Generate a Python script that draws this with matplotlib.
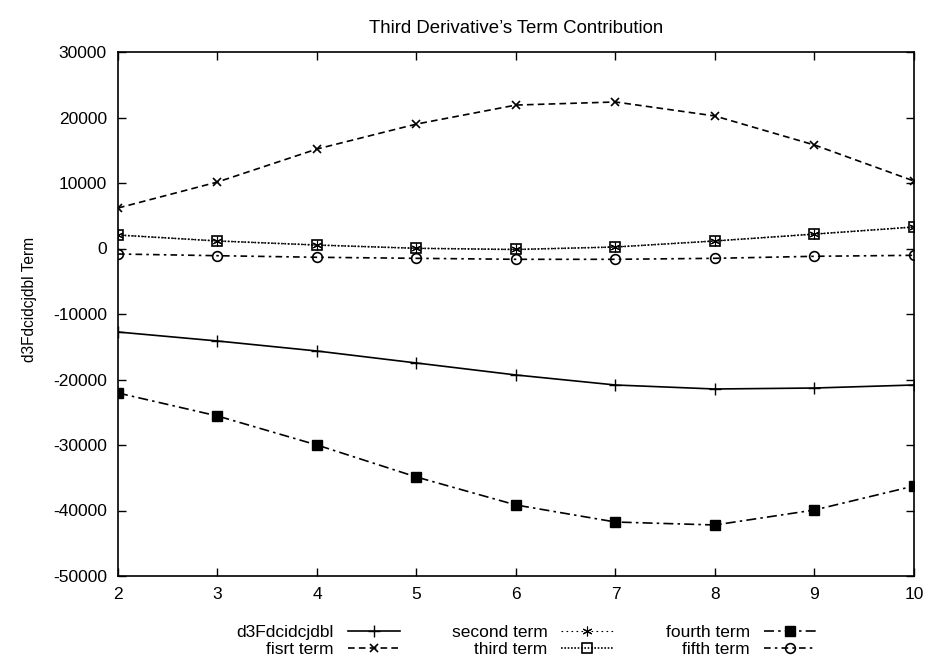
import matplotlib
matplotlib.use("Agg")
import matplotlib.pyplot as plt

plt.rcParams['font.family'] = ['Liberation Sans', 'DejaVu Sans']
plt.rcParams['axes.unicode_minus'] = False

x = [2, 3, 4, 5, 6, 7, 8, 9, 10]
d3F = [-12750, -14120, -15650, -17480, -19310, -20840, -21450, -21300, -20840]
first_term = [6180, 10150, 15190, 19000, 21900, 22370, 20230, 15800, 10300]
second_term = [2060, 1150, 530, 30, -150, 230, 1150, 2200, 3280]
third_term = [2060, 1150, 530, 30, -150, 230, 1150, 2200, 3280]
fourth_term = [-22060, -25570, -30000, -34890, -39160, -41760, -42210, -39920, -36260]
fifth_term = [-840, -1100, -1340, -1500, -1650, -1650, -1500, -1190, -1040]

labels = ["d3Fdcidcjdbl", "fisrt term", "second term", "third term", "fourth term", "fifth term"]

fig = plt.figure(figsize=(9.28, 6.58), dpi=100)
ax = fig.add_axes([118/928, 1-576/658, (914-118)/928, (576-52)/658])

lw = 1.2
ax.plot(x, d3F, color='black', lw=lw, ls='-', marker='+', ms=8, mew=1.0, label=labels[0])
ax.plot(x, first_term, color='black', lw=lw, ls=(0, (4, 2.5)), marker='x', ms=6, mew=1.2, label=labels[1])
ax.plot(x, second_term, color='black', lw=0.8, ls=(0, (1.5, 3)), marker=(6, 2, 0), ms=7, mew=0.8, label=labels[2])
ax.plot(x, third_term, color='black', lw=lw, ls=(0, (1, 1)), marker='s', ms=7, mfc='none', mew=1.2, label=labels[3])
ax.plot(x, fourth_term, color='black', lw=lw, ls=(0, (6, 2.5, 1.5, 2.5)), marker='s', ms=7, mfc='black', label=labels[4])
ax.plot(x, fifth_term, color='black', lw=lw, ls=(0, (4, 2.5, 1.5, 2.5)), marker='o', ms=7, mfc='none', mew=1.2, label=labels[5])

ax.set_xlim(2, 10)
ax.set_ylim(-50000, 30000)
ax.set_xticks(x)
ax.set_yticks(range(-50000, 30001, 10000))
ax.tick_params(direction='in', top=True, right=True, length=6, width=1, labelsize=12.5, pad=8)
for s in ax.spines.values():
    s.set_linewidth(1.2)

ax.set_title("Third Derivative\u2019s Term Contribution", fontsize=13.4, pad=14)
ax.set_ylabel("d3Fdcidcjdbl Term", fontsize=11.2)
ax.yaxis.set_label_coords(-(118-37)/796, (576-299)/524)

leg = fig.legend(loc='center', bbox_to_anchor=(526/928, 1-641/658), ncol=3, frameon=False,
                 markerfirst=False, fontsize=12.5, handlelength=3.0, handletextpad=0.8,
                 columnspacing=3.0, labelspacing=0.1)

fig.savefig("out.png", dpi=100)
